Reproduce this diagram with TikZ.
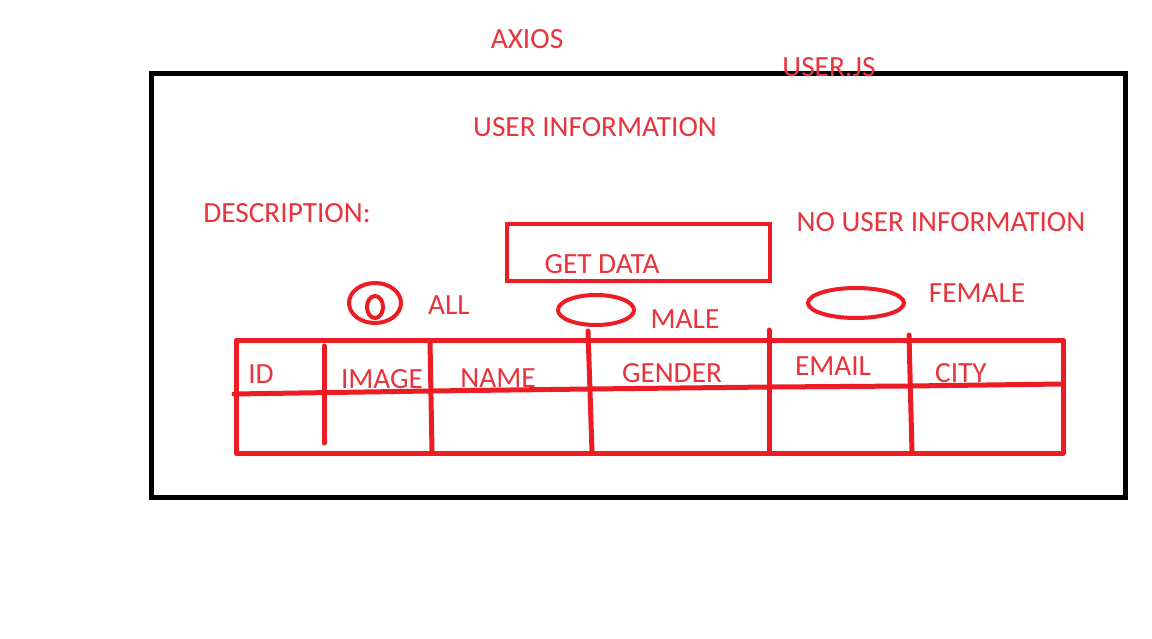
\documentclass[tikz,border=0pt]{standalone}
\usepackage{fontspec}
\setmainfont{Carlito}
\definecolor{paintred}{HTML}{ED1C24}
\definecolor{textred}{HTML}{E8343C}
\begin{document}
\begin{tikzpicture}[x=1pt,y=-1pt,
  lbl/.style={text=textred,font=\fontsize{29.3}{33}\selectfont,inner sep=0pt,anchor=center},
  redline/.style={draw=paintred,line width=5pt,line cap=round,line join=round},
  redthin/.style={draw=paintred,line width=4pt}]
\useasboundingbox[fill=white] (0,0) rectangle (1152,639);
% outer black frame
\draw[line width=5pt,black] (151,74) rectangle (1125,497);
% labels
\node[lbl] (axios) at (527,39) {AXIOS};
\node[lbl] (userjs) at (829,67) {USER.JS};
\node[lbl] (userinfo) at (595,127) {USER INFORMATION};
\node[lbl] (desc) at (287,213) {DESCRIPTION:};
\node[lbl] (nouser) at (941,222) {NO USER INFORMATION};
% get data box
\draw[redthin] (507,224) rectangle (770,281);
\node[lbl] (getdata) at (602,264) {GET DATA};
% radio options
\draw[redthin] (375,303) ellipse [x radius=26,y radius=20];
\draw[redthin] (375,307) ellipse [x radius=8,y radius=11];
\node[lbl] (all) at (449,305) {ALL};
\draw[redthin] (596,310) ellipse [x radius=38,y radius=15];
\node[lbl] (male) at (685,319) {MALE};
\draw[redthin] (856,303) ellipse [x radius=48,y radius=15];
\node[lbl] (female) at (977,293) {FEMALE};
% table
\draw[redline,line cap=butt] (236,340) rectangle (1063,453);
\draw[redline] (234,394) -- (430,391) -- (590,389) -- (770,387) -- (910,386) -- (1063,384);
\draw[redline] (324,346) -- (324,443);
\draw[redline] (430,341) -- (432,452);
\draw[redline] (588,331) -- (592,452);
\draw[redline] (769,330) -- (769,452);
\draw[redline] (909,335) -- (912,452);
\node[lbl] (id) at (261,374) {ID};
\node[lbl] (image) at (382,379) {IMAGE};
\node[lbl] (name) at (498,378) {NAME};
\node[lbl] (gender) at (672,373) {GENDER};
\node[lbl] (email) at (833,366) {EMAIL};
\node[lbl] (city) at (961,373) {CITY};
\end{tikzpicture}
\end{document}
